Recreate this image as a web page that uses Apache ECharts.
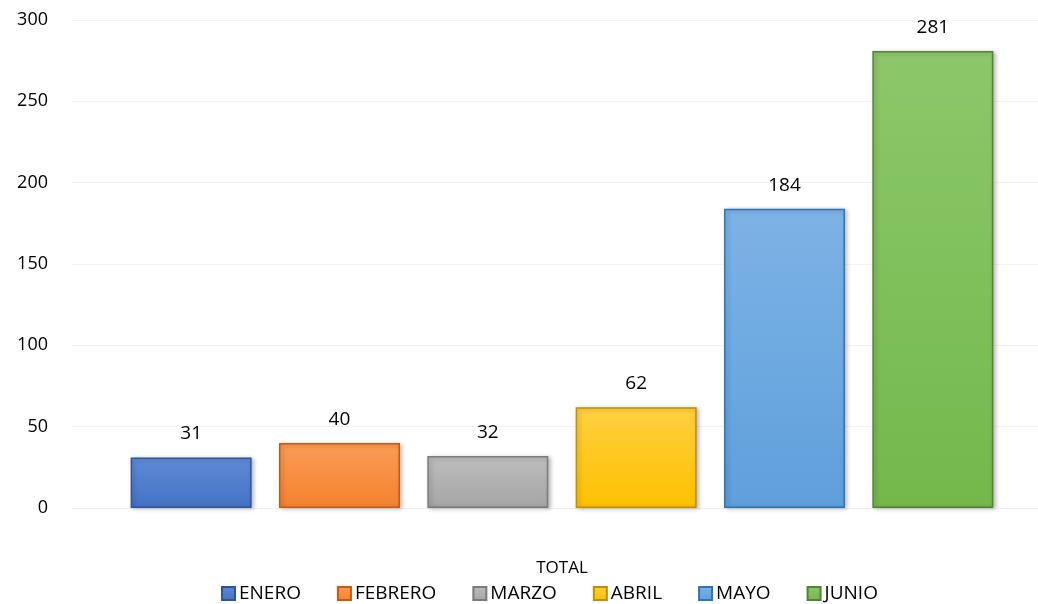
<!DOCTYPE html>
<html>
<head>
<meta charset="utf-8">
<script src="https://cdn.jsdelivr.net/npm/echarts@6/dist/echarts.min.js"></script>
<style>
  html, body { margin: 0; padding: 0; background: #fff; }
  #chart { width: 1038px; height: 604px; }
</style>
</head>
<body>
<div id="chart"></div>
<script>
const categories = ["TOTAL"];
const seriesNames = ["ENERO", "FEBRERO", "MARZO", "ABRIL", "MAYO", "JUNIO"];
const seriesValues = [31, 40, 32, 62, 184, 281];
const yTicks = { min: 0, max: 300, interval: 50 };

// base colour, light top, dark edge for each month
const palette = [
  ["#4472c4", "#5f8ad6", "#2f5597"],
  ["#f5822f", "#fb9c55", "#c55a11"],
  ["#a5a5a5", "#bdbdbd", "#7b7b7b"],
  ["#ffc000", "#ffd040", "#bf9000"],
  ["#5f9fdc", "#7db3e6", "#2e75b6"],
  ["#74b84c", "#8cc86a", "#548235"]
];

const myChart = echarts.init(document.getElementById("chart"));
const font = "'Open Sans', 'Noto Sans', sans-serif";

let series = seriesNames.map((name, i) => {
  const c = palette[i];
  return {
    name: name,
    type: "bar",
    xAxisIndex: 1,
    yAxisIndex: 1,
    barWidth: 121,
    barGap: "22.6%",
    data: [seriesValues[i]],
    itemStyle: {
      color: new echarts.graphic.LinearGradient(0, 0, 0, 1, [
        { offset: 0, color: c[1] },
        { offset: 1, color: c[0] }
      ]),
      borderColor: c[2],
      borderWidth: 1.5,
      shadowColor: "rgba(0,0,0,0.25)",
      shadowBlur: 4,
      shadowOffsetX: 2,
      shadowOffsetY: 1
    },
    label: {
      show: true,
      position: "top",
      distance: 14,
      color: "#000",
      fontSize: 19,
      fontFamily: font
    }
  };
});

let option = {
  animation: false,
  backgroundColor: "#fff",
  // grid 0 carries the gridlines and y labels, grid 1 the bars
  grid: [
    { left: 72, top: 20, right: 0, height: 488, containLabel: false },
    { left: 86, top: 20, right: 0, height: 488, containLabel: false }
  ],
  legend: {
    top: 579,
    left: 216,
    itemWidth: 13,
    itemHeight: 13,
    itemGap: 36,
    icon: "rect",
    textStyle: { color: "#000", fontSize: 19, fontFamily: font, padding: [0, 0, 0, -1] },
    data: seriesNames
  },
  xAxis: [
    {
      type: "category",
      gridIndex: 0,
      data: categories,
      axisLine: { show: true, lineStyle: { color: "#eeeeee" } },
      axisTick: { show: false },
      axisLabel: { show: false }
    },
    {
      type: "category",
      gridIndex: 1,
      data: categories,
      axisLine: { show: false },
      axisTick: { show: false },
      axisLabel: { color: "#000", fontSize: 17, fontFamily: font, margin: 52 }
    }
  ],
  yAxis: [
    {
      type: "value",
      gridIndex: 0,
      min: yTicks.min,
      max: yTicks.max,
      interval: yTicks.interval,
      axisLine: { show: false },
      axisTick: { show: false },
      splitLine: { lineStyle: { color: "#f2f2f2" } },
      axisLabel: { color: "#000", fontSize: 18, fontFamily: font, margin: 24 }
    },
    {
      type: "value",
      gridIndex: 1,
      min: yTicks.min,
      max: yTicks.max,
      interval: yTicks.interval,
      show: false,
      splitLine: { show: false }
    }
  ],
  series: series
};

myChart.setOption(option);
</script>
</body>
</html>
